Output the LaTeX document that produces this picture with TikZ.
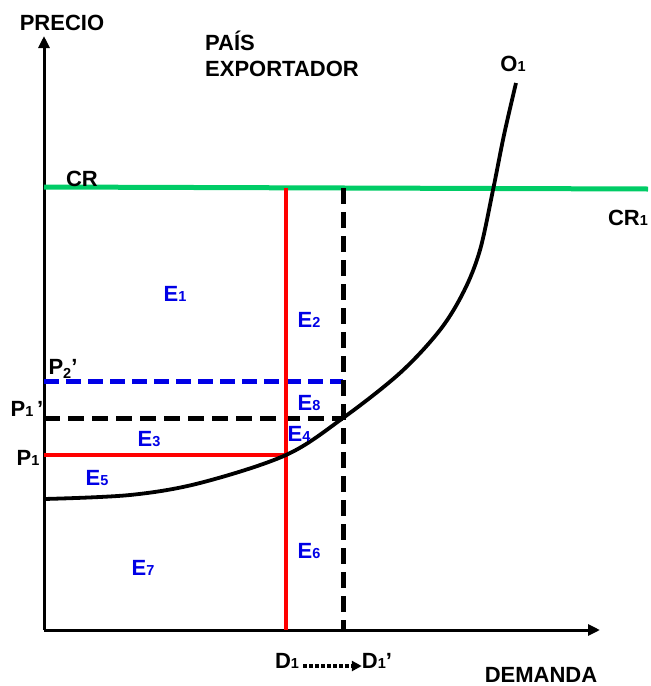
\documentclass[tikz,border=0pt]{standalone}
\usepackage{fontspec}
\setmainfont{Liberation Sans}
\usetikzlibrary{arrows.meta}
\definecolor{crgreen}{RGB}{0,204,102}
\definecolor{eblue}{RGB}{0,0,230}
\newcommand\sbx[1]{{\fontsize{14.5}{14.5}\selectfont #1}}
\newcommand\sbl[1]{\raisebox{-0.35ex}{\fontsize{14.5}{14.5}\selectfont #1}}
\tikzset{
  lbl/.style={font=\fontsize{22}{26}\selectfont\bfseries, inner sep=0pt, text=black},
  elbl/.style={font=\fontsize{22}{26}\selectfont\bfseries, inner sep=0pt, text=eblue},
  axis/.style={line width=3pt, -{Triangle[length=12pt,width=11pt]}},
  redline/.style={line width=3.6pt, red},
  blkdash/.style={line width=5pt, black, dash pattern=on 16pt off 8pt},
  bludash/.style={line width=5pt, eblue, dash pattern=on 15pt off 7pt},
  curve/.style={line width=3.8pt, black},
  greenline/.style={line width=5pt, crgreen}
}
\begin{document}
\begin{tikzpicture}[x=1pt,y=-1pt]
\useasboundingbox (0,0) rectangle (651,686);
% coordinates
\coordinate (O) at (44,630);
\coordinate (ytop) at (44,36);
\coordinate (xend) at (600,630);
\coordinate (crL) at (44,187);
\coordinate (crR) at (648,189);
\coordinate (rtop) at (286,187.5);
\coordinate (rbot) at (286,630);
\coordinate (p1L) at (44,455);
\coordinate (p1R) at (286,455);
\coordinate (dtop) at (343,188);
\coordinate (dbot) at (343,630);
\coordinate (p1pL) at (44,418);
\coordinate (p1pR) at (343,418);
\coordinate (p2L) at (44,381);
\coordinate (p2R) at (343,381);
% axes
\draw[axis] (O) -- (ytop);
\draw[axis] (O) -- (xend);
% green CR line
\draw[greenline] (crL) -- (crR);
% dashed lines
\draw[bludash] (p2L) -- (p2R);
\draw[blkdash] (p1pL) -- (p1pR);
\draw[blkdash] (dtop) -- (dbot);
% red lines
\draw[redline] (rtop) -- (rbot);
\draw[redline] (p1L) -- (p1R);
% supply curve
\draw[curve] plot[smooth, tension=0.55] coordinates {(44,499) (130,495) (200,483) (286,455) (343,418) (400,373) (440,330) (464,291) (480,250) (493,190) (504,135) (516,83)};
% labels
\node[lbl, anchor=base] (precio) at (62,30) {PRECIO};
\node[lbl, align=left, anchor=north west] (pais) at (205,31) {PAÍS\\EXPORTADOR};
\node[lbl, anchor=base] (o1) at (513,71) {O\sbx{1}};
\node[lbl, anchor=base] (cr) at (82,186) {CR};
\node[lbl, anchor=base] (cr1) at (628,225) {CR\sbx{1}};
\node[lbl, anchor=base] (p2) at (63,374) {P\sbl{2}’};
\node[lbl, anchor=base] (p1p) at (27,416) {P\sbx{1}\,’};
\node[lbl, anchor=base] (p1) at (28,465) {P\sbx{1}};
\node[lbl, anchor=base] (d1) at (287,668) {D\sbx{1}};
\node[lbl, anchor=base] (d1p) at (377,668) {D\sbx{1}’};
\node[lbl, anchor=base] (dem) at (541,682) {DEMANDA};
\draw[line width=3.5pt, dash pattern=on 3.5pt off 2.5pt, -{Triangle[length=10pt,width=10pt]}] (303,666) -- (d1p.west |- 0,666);
% E labels
\node[elbl, anchor=base] (e1) at (175,301) {E\sbx{1}};
\node[elbl, anchor=base] (e2) at (309,327) {E\sbx{2}};
\node[elbl, anchor=base] (e8) at (309,410) {E\sbx{8}};
\node[elbl, anchor=base] (e3) at (149,446) {E\sbx{3}};
\node[elbl, anchor=base] (e4) at (299,441) {E\sbx{4}};
\node[elbl, anchor=base] (e5) at (97,485) {E\sbx{5}};
\node[elbl, anchor=base] (e6) at (309,558) {E\sbx{6}};
\node[elbl, anchor=base] (e7) at (143,575) {E\sbx{7}};
\end{tikzpicture}
\end{document}
